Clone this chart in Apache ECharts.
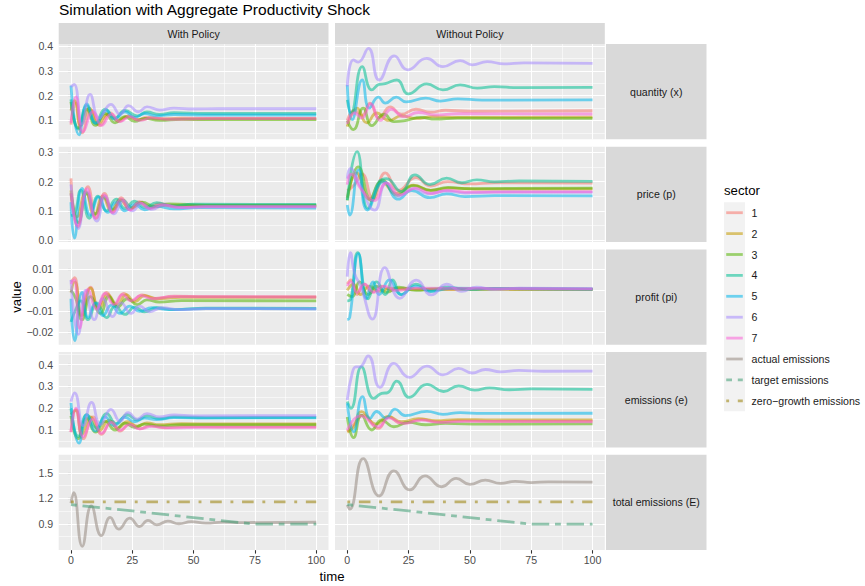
<!DOCTYPE html>
<html><head><meta charset="utf-8">
<script src="https://cdn.jsdelivr.net/npm/echarts@6/dist/echarts.min.js"></script>
<style>html,body{margin:0;padding:0;background:#fff}#c{width:865px;height:586px}</style>
</head><body><div id="c"></div>
<script>
// ---------------- DATA ----------------
const sectorNames = ['1','2','3','4','5','6','7'];
const emissionNames = ['actual emissions','target emissions','zero\u2212growth emissions'];
const facetCols = ['With Policy','Without Policy'];
const facetRows = ['quantity (x)','price (p)','profit (pi)','emissions (e)','total emissions (E)'];
const xTicks = [0,25,50,75,100];
const xTickLabels = ['0','25','50','75','100'];
const yTicks = [[0.1,0.2,0.3,0.4],[0.0,0.1,0.2,0.3],[-0.02,-0.01,0.00,0.01],[0.1,0.2,0.3,0.4],[0.9,1.2,1.5]];
const yTickLabels = [['0.1','0.2','0.3','0.4'],['0.0','0.1','0.2','0.3'],['\u22120.02','\u22120.01','0.00','0.01'],['0.1','0.2','0.3','0.4'],['0.9','1.2','1.5']];

// quantity (x), with policy: one [time, value] list per sector 1..7
const quantityWith = [
 [[0,0.083],[2,0.17],[4.5,0.05],[8.3,0.141],[11.8,0.079],[16,0.13],[19.5,0.095],[23.5,0.118],[27,0.102],[31,0.112],[36,0.105],[45,0.109],[60,0.108],[100,0.108]],
 [[0,0.14],[1.5,0.18],[4,0.08],[7.5,0.15],[11,0.085],[15,0.125],[19,0.1],[23,0.115],[28,0.102],[33,0.11],[40,0.105],[60,0.106],[100,0.106]],
 [[0,0.175],[3,0.07],[6.5,0.145],[10,0.08],[14,0.128],[18,0.09],[22,0.115],[26,0.096],[30,0.108],[36,0.1],[45,0.104],[60,0.103],[100,0.103]],
 [[0,0.185],[3,0.065],[6.5,0.16],[10,0.09],[14,0.145],[18,0.11],[22,0.14],[27,0.118],[31,0.134],[36,0.124],[42,0.131],[55,0.128],[100,0.128]],
 [[0,0.24],[3.3,0.042],[6.5,0.167],[10.3,0.088],[14.4,0.14],[17.7,0.105],[22,0.135],[26,0.112],[30,0.128],[35,0.118],[42,0.124],[55,0.122],[100,0.122]],
 [[0,0.235],[1.3,0.245],[4.5,0.085],[7.8,0.205],[11.5,0.11],[16.3,0.165],[20,0.125],[23.5,0.16],[27.5,0.135],[31,0.155],[36,0.142],[42,0.15],[50,0.146],[60,0.147],[100,0.147]],
 [[0,0.09],[2,0.195],[5,0.055],[9,0.135],[12.5,0.08],[16.5,0.125],[20,0.095],[24,0.115],[28,0.1],[33,0.11],[40,0.104],[55,0.107],[100,0.107]]
];
const quantityWithout = [
 [[0,0.1],[3,0.14],[6,0.12],[9.2,0.17],[13,0.11],[17.5,0.155],[22,0.125],[28,0.145],[34,0.133],[40,0.141],[50,0.137],[100,0.139]],
 [[0,0.075],[4,0.15],[8,0.09],[12,0.13],[17,0.1],[22,0.118],[28,0.108],[35,0.115],[45,0.112],[100,0.113]],
 [[0,0.1],[2.5,0.063],[6.5,0.15],[10,0.079],[15,0.125],[19,0.095],[24,0.1],[30,0.112],[36,0.105],[45,0.109],[100,0.108]],
 [[0,0.183],[1.5,0.13],[6.1,0.317],[10,0.223],[13,0.245],[15.5,0.248],[20.2,0.263],[24.9,0.207],[32.4,0.247],[39,0.223],[46,0.243],[53,0.23],[60,0.236],[70,0.232],[100,0.233]],
 [[0,0.243],[2,0.103],[6.1,0.263],[9,0.15],[12.7,0.194],[15.5,0.17],[20,0.194],[24,0.175],[32,0.19],[38,0.178],[45,0.187],[55,0.182],[100,0.183]],
 [[0,0.237],[2.5,0.344],[4.5,0.335],[8.6,0.39],[13,0.263],[19.2,0.36],[24.6,0.304],[32.4,0.35],[39,0.317],[46,0.341],[51,0.324],[57,0.337],[64,0.328],[72,0.332],[100,0.33]],
 [[0,0.086],[3,0.13],[6,0.11],[9.5,0.167],[13.5,0.1],[18,0.145],[23,0.115],[29,0.132],[36,0.122],[45,0.127],[100,0.126]]
];
// price (p)
const priceWith = [
 [[0,0.211],[2.8,0.045],[6.9,0.183],[10.3,0.075],[13.7,0.16],[17,0.095],[20.5,0.145],[24,0.105],[28,0.132],[32,0.112],[36,0.125],[42,0.116],[50,0.119],[100,0.117]],
 [[0,0.17],[2.5,0.08],[6,0.165],[9.5,0.085],[13,0.15],[16.5,0.1],[20,0.138],[24,0.108],[28,0.128],[33,0.113],[40,0.12],[55,0.118],[100,0.118]],
 [[0,0.16],[3,0.06],[6.5,0.16],[10,0.09],[13.5,0.145],[17,0.105],[21,0.137],[25,0.11],[29,0.13],[34,0.116],[40,0.124],[55,0.12],[100,0.12]],
 [[0,0.085],[1.5,0.09],[4,0.17],[7.5,0.075],[11,0.15],[14.5,0.1],[18.5,0.14],[22,0.108],[26,0.133],[30,0.112],[35,0.128],[41,0.117],[50,0.123],[100,0.122]],
 [[0,0.13],[1.4,0.007],[4.5,0.177],[7.9,0.085],[11.3,0.148],[15,0.095],[18.5,0.13],[22,0.1],[26,0.122],[30,0.104],[35,0.116],[42,0.107],[52,0.111],[100,0.11]],
 [[0,0.19],[3,0.04],[6.5,0.165],[10.5,0.065],[14,0.15],[17.5,0.09],[21.5,0.135],[25,0.1],[29,0.126],[33,0.105],[38,0.12],[45,0.111],[55,0.115],[100,0.115]],
 [[0,0.16],[2.7,0.05],[6.5,0.175],[10,0.075],[13.5,0.155],[17,0.095],[20.5,0.14],[24,0.103],[28,0.128],[32,0.108],[37,0.121],[44,0.112],[55,0.114],[100,0.114]]
];
const priceWithout = [
 [[0,0.169],[3,0.19],[6,0.226],[10.5,0.14],[15.5,0.23],[21,0.17],[28,0.214],[34,0.185],[41,0.2],[50,0.192],[60,0.196],[100,0.195]],
 [[0,0.145],[3.8,0.23],[9,0.14],[14,0.2],[20,0.16],[27,0.188],[34,0.17],[42,0.178],[55,0.174],[100,0.175]],
 [[0,0.136],[4.5,0.25],[9.8,0.135],[14.5,0.205],[20.4,0.153],[27,0.186],[34,0.17],[41,0.18],[50,0.176],[100,0.178]],
 [[0,0.137],[4,0.302],[8.4,0.109],[13,0.2],[16,0.21],[22,0.166],[27.6,0.223],[33.7,0.19],[40.5,0.212],[46.6,0.196],[52.8,0.206],[60,0.199],[70,0.202],[100,0.201]],
 [[0,0.12],[1,0.086],[4.6,0.24],[8.2,0.103],[14.8,0.2],[20.8,0.14],[26.3,0.169],[33.7,0.145],[40.5,0.158],[48,0.149],[60,0.152],[100,0.151]],
 [[0,0.21],[1.3,0.245],[5,0.19],[11.2,0.103],[15.9,0.196],[21,0.15],[27,0.176],[33,0.158],[40,0.168],[48,0.161],[60,0.164],[100,0.163]],
 [[0,0.19],[1.5,0.225],[6,0.17],[11,0.135],[16,0.195],[21.5,0.155],[28,0.178],[34,0.16],[41,0.17],[50,0.164],[100,0.166]]
];
// profit (pi)
const profitWith = [
 [[0,0.004],[1.5,0.006],[4,-0.012],[8,0.0015],[11,-0.008],[14.5,-0.001],[18,-0.0065],[21.5,-0.0015],[25,-0.005],[29,-0.0022],[34,-0.0038],[42,-0.0028],[55,-0.003],[100,-0.003]],
 [[0,-0.001],[1.5,0.004],[4.5,-0.012],[8,0.001],[11.5,-0.009],[15,-0.002],[19,-0.007],[22.5,-0.002],[26,-0.0055],[30,-0.0025],[35,-0.004],[45,-0.0033],[100,-0.0034]],
 [[0,0.0],[2,-0.004],[4.5,-0.014],[8,-0.003],[12,-0.011],[15.5,-0.003],[19,-0.008],[23,-0.004],[27,-0.0068],[31,-0.0045],[36,-0.0056],[45,-0.0049],[100,-0.005]],
 [[0,-0.015],[2,-0.009],[4,-0.005],[7,-0.014],[10.5,-0.006],[14.5,-0.013],[18,-0.0075],[22,-0.0115],[26,-0.008],[30,-0.0102],[35,-0.0083],[42,-0.0092],[55,-0.0085],[100,-0.0086]],
 [[0,-0.004],[1.5,-0.024],[4.5,-0.001],[7,-0.013],[10,-0.006],[13,-0.012],[16.5,-0.007],[20,-0.011],[24,-0.0075],[28,-0.01],[33,-0.0082],[40,-0.0092],[55,-0.0087],[100,-0.0088]],
 [[0,0.005],[3,-0.021],[6,0.0],[9.5,-0.014],[13,-0.004],[17,-0.0125],[20.5,-0.006],[24.5,-0.011],[28,-0.0075],[32,-0.0102],[37,-0.0083],[44,-0.0092],[55,-0.0087],[100,-0.0088]],
 [[0,0.003],[1.3,0.005],[3.5,-0.018],[7,0.0005],[10.5,-0.009],[14,-0.0015],[17.5,-0.0068],[21,-0.002],[24.5,-0.005],[28.5,-0.0025],[33,-0.004],[42,-0.003],[100,-0.0032]]
];
const profitWithout = [
 [[0,0.003],[1.5,0.005],[4,-0.002],[7,0.003],[10,-0.001],[14,0.002],[18,0.0],[24,0.001],[35,0.0005],[100,0.0006]],
 [[0,0.0],[2.5,0.003],[5.5,-0.002],[9,0.002],[13,-0.0005],[18,0.001],[25,0.0003],[100,0.0005]],
 [[0,-0.002],[2,-0.003],[5,0.004],[8.5,-0.002],[12,0.002],[16,-0.001],[21,0.0015],[28,0.0],[36,0.0008],[100,0.0005]],
 [[0,-0.005],[1.5,-0.004],[4.3,0.018],[8.5,-0.004],[12,0.004],[15.5,-0.002],[18.5,0.005],[22,-0.002],[28,0.003],[34,-0.0005],[40,0.0015],[50,0.0003],[60,0.0008],[100,0.0006]],
 [[0,-0.014],[1,-0.013],[4.6,0.0175],[7.8,-0.004],[10.5,0.004],[13,-0.002],[17.2,0.005],[22,-0.002],[28,0.002],[34,-0.0005],[42,0.001],[100,0.0006]],
 [[0,0.0065],[1.3,0.018],[3,0.008],[5.5,0.002],[10.3,-0.0137],[15.3,0.0108],[21.4,-0.0038],[28.2,0.0049],[34.3,-0.0022],[40.5,0.0029],[46.6,-0.0005],[52.7,0.0015],[60,0.0004],[70,0.001],[100,0.0008]],
 [[0,0.002],[1.5,0.004],[4,-0.001],[7,0.003],[11,-0.001],[15,0.002],[20,0.0],[28,0.001],[100,0.0006]]
];
// emissions (e)
const emissionsWith = [
 [[0,0.09],[2,0.195],[5,0.06],[9,0.16],[12.5,0.08],[16.5,0.14],[20,0.095],[24,0.128],[28,0.105],[32,0.12],[38,0.11],[46,0.116],[60,0.115],[100,0.115]],
 [[0,0.17],[2,0.19],[4.5,0.08],[8,0.16],[11.5,0.095],[15.5,0.145],[19,0.108],[23,0.138],[27,0.118],[31,0.133],[36,0.124],[45,0.129],[60,0.128],[100,0.128]],
 [[0,0.165],[3,0.06],[6.5,0.155],[10,0.09],[14,0.14],[18,0.1],[22,0.132],[26,0.112],[30,0.127],[36,0.119],[45,0.124],[100,0.124]],
 [[0,0.2],[3,0.07],[6.5,0.17],[10.4,0.11],[14.5,0.175],[18.5,0.13],[23,0.17],[27,0.145],[31,0.165],[36,0.152],[42,0.16],[55,0.157],[100,0.158]],
 [[0,0.225],[3.3,0.04],[6.5,0.17],[10,0.095],[14,0.16],[17.5,0.12],[22,0.158],[26,0.138],[30,0.155],[35,0.148],[42,0.157],[55,0.155],[100,0.156]],
 [[0,0.23],[1.5,0.271],[5,0.12],[8.4,0.227],[12,0.125],[16.3,0.195],[20,0.14],[23.3,0.18],[27,0.15],[31,0.175],[36,0.16],[42,0.169],[50,0.165],[100,0.166]],
 [[0,0.09],[2,0.2],[5,0.07],[9,0.15],[12.5,0.085],[16.5,0.135],[20,0.1],[24,0.125],[28,0.105],[33,0.117],[40,0.11],[55,0.112],[100,0.112]]
];
const emissionsWithout = [
 [[0,0.092],[3,0.13],[6.5,0.168],[12.7,0.107],[16.8,0.16],[22.2,0.13],[30.4,0.148],[37,0.137],[45,0.143],[60,0.14],[100,0.141]],
 [[0,0.09],[2.5,0.11],[5.8,0.184],[11.8,0.127],[16.8,0.162],[22,0.138],[29,0.152],[36,0.143],[45,0.148],[60,0.146],[100,0.146]],
 [[0,0.16],[2.6,0.065],[5.8,0.168],[10,0.1],[14,0.146],[19,0.115],[25,0.135],[32,0.124],[40,0.13],[55,0.127],[100,0.128]],
 [[0,0.231],[1.5,0.2],[5.8,0.39],[10.8,0.245],[14,0.268],[16.5,0.272],[20.2,0.325],[25.3,0.25],[32.5,0.31],[39.3,0.277],[45.4,0.303],[52,0.283],[58,0.294],[66,0.285],[75,0.289],[100,0.287]],
 [[0,0.223],[2.6,0.092],[6.2,0.253],[9.3,0.153],[12,0.185],[15.7,0.155],[19.5,0.196],[23.6,0.166],[32.5,0.186],[39,0.172],[46,0.18],[55,0.176],[100,0.177]],
 [[0,0.238],[2,0.36],[3.5,0.39],[5,0.39],[8.5,0.441],[13.3,0.296],[19,0.406],[25.3,0.342],[32.5,0.394],[39,0.353],[45.4,0.383],[50.9,0.362],[56.3,0.378],[62.4,0.367],[70,0.374],[80,0.37],[100,0.371]],
 [[0,0.1],[5.4,0.165],[12.7,0.115],[17,0.155],[23,0.13],[30,0.145],[38,0.135],[48,0.14],[100,0.138]]
];
// total emissions (E)
const actualEmissionsWith = [[0,1.142],[1.1,1.266],[4.6,0.635],[8.3,1.11],[12.4,0.76],[16,0.975],[19.5,0.838],[24,0.967],[28,0.868],[31.4,0.939],[35,0.888],[39.5,0.931],[44,0.9],[49,0.925],[55,0.908],[62,0.92],[70,0.914],[100,0.918]];
const actualEmissionsWithout = [[0,1.122],[1,1.072],[6.5,1.668],[13,1.227],[19,1.523],[25.5,1.298],[31.7,1.465],[38.5,1.336],[44.4,1.434],[50,1.364],[56.3,1.415],[62.4,1.376],[68.5,1.4],[75,1.385],[82,1.394],[100,1.39]];
const targetEmissions = [[0,1.125],[25,1.051],[50,0.973],[75,0.895],[100,0.895]];
const zeroGrowthEmissions = [[0,1.157],[100,1.157]];

// ---------------- STYLE ----------------
const sectorColors = ['#F8766D','#C49A00','#53B400','#00C094','#00B6EB','#A58AFF','#FB61D7'];
const emissionColors = ['#958980','#3E9D73','#998004'];
const emissionDash = ['solid',[5.8,5.8,17.4,5.8],[2.9,8.7,11.6,8.7]];
const LINE_W = 2.8, ALPHA = 0.55;
const FONT = '"Liberation Sans", Arial, Helvetica, sans-serif';
const SMALL = 10.6, MID = 13.2, BIG = 15.5;
const colLeft = [58.7, 335], colW = 269.8;
const rowTop = [44, 146.7, 249.4, 352.1, 454.8], rowH = 95.3;
const yRange = [[0.024,0.408],[-0.006,0.319],[-0.0259,0.0195],[0.02,0.458],[0.59,1.712]];
const xRange = [-5,105];

const panelData = [[quantityWith, quantityWithout],[priceWith, priceWithout],[profitWith, profitWithout],[emissionsWith, emissionsWithout]];
const totalData = [[actualEmissionsWith, targetEmissions, zeroGrowthEmissions],[actualEmissionsWithout, targetEmissions, zeroGrowthEmissions]];

function minorOf(majors, lo, hi){
  const step = majors[1]-majors[0];
  const ext = [majors[0]-step, ...majors, majors[majors.length-1]+step];
  const out = [];
  for(let i=1;i<ext.length;i++){ const m=(ext[i]+ext[i-1])/2; if(m>lo && m<hi) out.push(m); }
  return out;
}

const grids=[], xAxes=[], yAxes=[], series=[];
for(let r=0;r<5;r++){
  for(let c=0;c<2;c++){
    const g = grids.length;
    grids.push({left:colLeft[c], top:rowTop[r], width:colW, height:rowH, show:true, backgroundColor:'#EBEBEB', borderWidth:0});
    xAxes.push({type:'value', gridIndex:g, min:xRange[0], max:xRange[1], axisLine:{show:false}, splitLine:{show:false},
      axisTick:{show:r===4, customValues:xTicks, length:3.5, lineStyle:{color:'#333333', width:1.07}},
      axisLabel:{show:r===4, customValues:xTicks, color:'#4D4D4D', fontSize:SMALL, fontFamily:FONT, margin:4.5,
        formatter:(v)=>{const i=xTicks.findIndex(t=>Math.abs(t-v)<1e-9); return i>=0?xTickLabels[i]:'';}}});
    const yt = yTicks[r], yl = yTickLabels[r];
    yAxes.push({type:'value', gridIndex:g, min:yRange[r][0], max:yRange[r][1], axisLine:{show:false}, splitLine:{show:false},
      axisTick:{show:c===0, customValues:yt, length:3.5, lineStyle:{color:'#333333', width:1.07}},
      axisLabel:{show:c===0, customValues:yt, color:'#4D4D4D', fontSize:SMALL, fontFamily:FONT, margin:5.5,
        formatter:(v)=>{const i=yt.findIndex(t=>Math.abs(t-v)<1e-9); return i>=0?yl[i]:'';}}});
    // grid lines drawn through the axes' scales
    const ml = [];
    minorOf(yt, yRange[r][0], yRange[r][1]).forEach(v=>ml.push({yAxis:v, lineStyle:{width:0.55}}));
    minorOf(xTicks, xRange[0], xRange[1]).forEach(v=>ml.push({xAxis:v, lineStyle:{width:0.55}}));
    yt.forEach(v=>ml.push({yAxis:v, lineStyle:{width:1.1}}));
    xTicks.forEach(v=>ml.push({xAxis:v, lineStyle:{width:1.1}}));
    series.push({type:'line', xAxisIndex:g, yAxisIndex:g, data:[], silent:true, z:1,
      markLine:{z:1, silent:true, symbol:'none', animation:false, label:{show:false}, lineStyle:{color:'#FFFFFF', type:'solid'}, data:ml}});
    if(r<4){
      panelData[r][c].forEach((d,k)=>{
        series.push({type:'line', name:sectorNames[k], xAxisIndex:g, yAxisIndex:g, data:d, smooth:0.5, showSymbol:false, symbol:'none',
          silent:true, z:2, lineStyle:{color:sectorColors[k], width:LINE_W, opacity:ALPHA}});
      });
    } else {
      totalData[c].forEach((d,k)=>{
        series.push({type:'line', name:emissionNames[k], xAxisIndex:g, yAxisIndex:g, data:d, smooth:k===0?0.5:false, showSymbol:false, symbol:'none',
          silent:true, z:2, lineStyle:{color:emissionColors[k], width:LINE_W, opacity:ALPHA, type:emissionDash[k]}});
      });
    }
  }
}

// strips, titles, legend
const graphic = [];
graphic.push({type:'text', left:59, top:1, style:{text:'Simulation with Aggregate Productivity Shock', font:BIG+'px '+FONT, fill:'#000'}});
facetCols.forEach((t,c)=>{
  graphic.push({type:'rect', shape:{x:colLeft[c], y:23, width:colW, height:21}, style:{fill:'#D9D9D9'}, silent:true});
  graphic.push({type:'text', x:colLeft[c]+colW/2, y:33.5, style:{text:t, font:SMALL+'px '+FONT, fill:'#1A1A1A', align:'center', verticalAlign:'middle'}});
});
const stripX = colLeft[1]+colW+1.2, stripW = 100.5;
facetRows.forEach((t,r)=>{
  graphic.push({type:'rect', shape:{x:stripX, y:rowTop[r], width:stripW, height:rowH}, style:{fill:'#D9D9D9'}, silent:true});
  graphic.push({type:'text', x:stripX+stripW/2, y:rowTop[r]+rowH/2, style:{text:t, font:SMALL+'px '+FONT, fill:'#1A1A1A', align:'center', verticalAlign:'middle'}});
});
graphic.push({type:'text', x:16, y:297, rotation:Math.PI/2, style:{text:'value', font:MID+'px '+FONT, fill:'#000', align:'center', verticalAlign:'middle'}});
graphic.push({type:'text', x:332, y:576, style:{text:'time', font:MID+'px '+FONT, fill:'#000', align:'center', verticalAlign:'middle'}});
// legend
const legX = 724, legY0 = 212.7, legStep = 20.9;
graphic.push({type:'text', x:legX, y:190, style:{text:'sector', font:MID+'px '+FONT, fill:'#000', align:'left', verticalAlign:'middle'}});
graphic.push({type:'rect', shape:{x:legX, y:legY0-legStep/2, width:21, height:legStep*10}, style:{fill:'#F2F2F2'}, silent:true});
const legItems = sectorNames.map((n,k)=>({name:n, color:sectorColors[k], dash:'solid'}))
  .concat(emissionNames.map((n,k)=>({name:n, color:emissionColors[k], dash:emissionDash[k]})));
legItems.forEach((it,i)=>{
  const y = legY0 + i*legStep;
  graphic.push({type:'line', shape:{x1:legX+2.2, y1:y, x2:legX+18.8, y2:y},
    style:{stroke:it.color, lineWidth:LINE_W, opacity:ALPHA, lineDash: it.dash==='solid'?null:it.dash}, silent:true});
  graphic.push({type:'text', x:legX+27.5, y:y, style:{text:it.name, font:SMALL+'px '+FONT, fill:'#1A1A1A', align:'left', verticalAlign:'middle'}});
});

const chart = echarts.init(document.getElementById('c'), null, {renderer:'svg', width:865, height:586});
chart.setOption({animation:false, backgroundColor:'#FFFFFF', grid:grids, xAxis:xAxes, yAxis:yAxes, series:series, graphic:graphic});
</script>
</body></html>
